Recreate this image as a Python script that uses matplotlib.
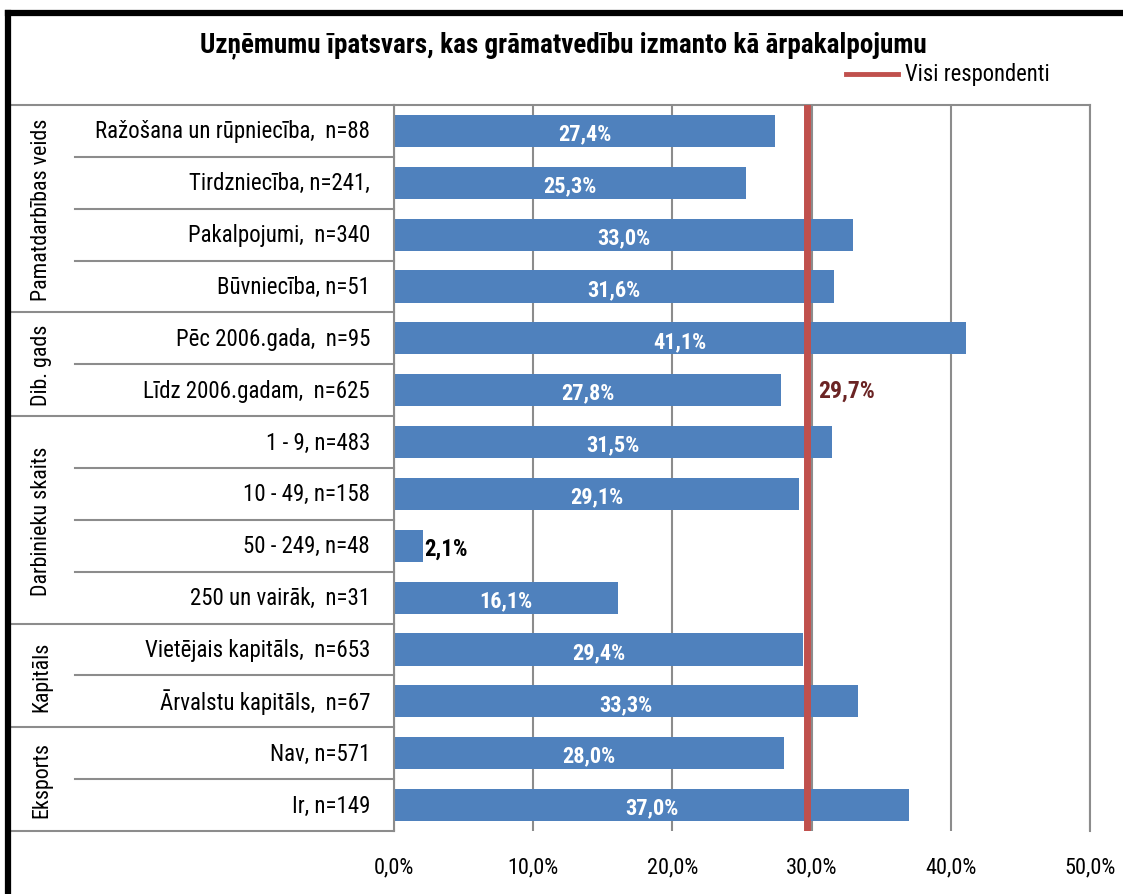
import matplotlib
matplotlib.use("Agg")
import matplotlib.pyplot as plt
from matplotlib.transforms import blended_transform_factory
from matplotlib.lines import Line2D

plt.rcParams['font.family'] = ['Roboto Condensed', 'DejaVu Sans']

title = "Uzņēmumu īpatsvars, kas grāmatvedību izmanto kā ārpakalpojumu"
categories = [
    "Ražošana un rūpniecība,  n=88",
    "Tirdzniecība, n=241,",
    "Pakalpojumi,  n=340",
    "Būvniecība, n=51",
    "Pēc 2006.gada,  n=95",
    "Līdz 2006.gadam,  n=625",
    "1 - 9, n=483",
    "10 - 49, n=158",
    "50 - 249, n=48",
    "250 un vairāk,  n=31",
    "Vietējais kapitāls,  n=653",
    "Ārvalstu kapitāls,  n=67",
    "Nav, n=571",
    "Ir, n=149",
]
values = [27.4, 25.3, 33.0, 31.6, 41.1, 27.8, 31.5, 29.1, 2.1, 16.1, 29.4, 33.3, 28.0, 37.0]
groups = ["Pamatdarbības veids", "Dib. gads", "Darbinieku skaits", "Kapitāls", "Eksports"]
group_sizes = [4, 2, 4, 2, 2]
overall = 29.7
overall_label = "Visi respondenti"
xticks = [0, 10, 20, 30, 40, 50]

W, H = 1123, 895
fig = plt.figure(figsize=(W / 100, H / 100), dpi=100)

left_px, right_px, top_px, bot_px = 394, 1090, 106, 832
ax = fig.add_axes([left_px / W, 1 - bot_px / H, (right_px - left_px) / W, (bot_px - top_px) / H])

n = len(categories)
ypos = list(range(n))
ax.set_xlim(0, 50)
ax.set_ylim(n - 0.5, -0.5)

bar_color = "#4F81BD"
grid_color = "#8C8C8C"

for x in xticks:
    ax.axvline(x, color=grid_color, lw=1.5, zorder=0)

ax.barh(ypos, values, height=0.62, color=bar_color, zorder=2)

for y, v in zip(ypos, values):
    lab = f"{v:.1f}%".replace(".", ",")
    if v < 5:
        ax.text(v + 0.1, y + 0.05, lab, ha="left", va="center", color="black",
                fontsize=16.5, fontweight="bold", zorder=4)
    else:
        ax.text(v / 2, y + 0.05, lab, ha="center", va="center", color="white",
                fontsize=16, fontweight="bold", zorder=4)

ax.axvline(overall, color="#C0504D", lw=5, zorder=3)
ax.text(overall + 0.8, 5, f"{overall:.1f}%".replace(".", ","), ha="left", va="center",
        color="#6B2424", fontsize=17, fontweight="bold", zorder=4)

ax.spines["bottom"].set_visible(False)
for s in ["top", "left", "right"]:
    ax.spines[s].set_color(grid_color)
    ax.spines[s].set_linewidth(1.5)

ax.set_yticks([])
ax.set_xticks(xticks)
ax.set_xticklabels([f"{x:.1f}%".replace(".", ",") for x in xticks], fontsize=16)
ax.tick_params(axis="x", length=0, pad=18)

# left label table
tr = blended_transform_factory(fig.transFigure, ax.transData)
label_x = 370 / W
for y, c in zip(ypos, categories):
    ax.text(label_x, y, c, transform=tr, ha="right", va="center", fontsize=16.5, clip_on=False)

full_x0 = 11 / W
sub_x0 = 75 / W
edge_x = left_px / W
start = 0
bounds = [-0.5]
for g, s in zip(groups, group_sizes):
    mid = start + (s - 1) / 2
    ax.text(42 / W, mid, g, transform=tr, rotation=90, ha="center", va="center",
            fontsize=15.8, clip_on=False)
    for k in range(1, s):
        yb = start + k - 0.5
        ax.add_line(Line2D([sub_x0, edge_x], [yb, yb], transform=tr, color=grid_color,
                           lw=1.5, clip_on=False))
    start += s
    bounds.append(start - 0.5)
for yb in bounds:
    ax.add_line(Line2D([full_x0, edge_x], [yb, yb], transform=tr, color=grid_color,
                       lw=1.5, clip_on=False))

# title and legend
fig.text(563 / W, 1 - 45 / H, title, ha="center", va="center", fontsize=19.5, fontweight="bold")
fig.add_artist(Line2D([846 / W, 898 / W], [1 - 75 / H, 1 - 75 / H], color="#C0504D", lw=3.5))
fig.text(905 / W, 1 - 75 / H, overall_label, ha="left", va="center", fontsize=16.3)

# outer frame (extends beyond right and bottom)
fig.add_artist(Line2D([8 / W, 8 / W], [-0.1, 1 - 14 / H], color="black", lw=4.5))
fig.add_artist(Line2D([8 / W, 1.1], [1 - 14 / H, 1 - 14 / H], color="black", lw=4.5))

fig.savefig("out.png", dpi=100, facecolor="white")
